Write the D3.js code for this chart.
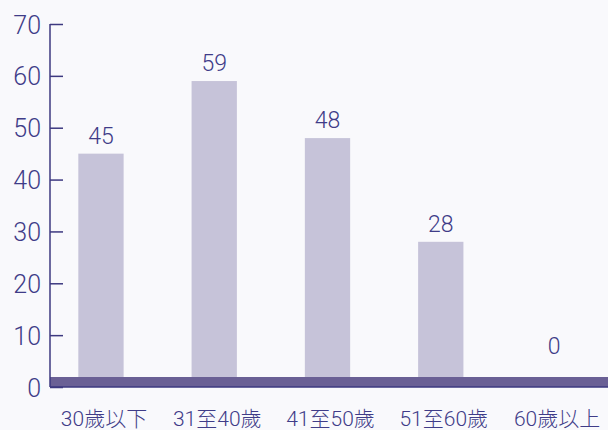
<!DOCTYPE html>
<html>
<head>
<meta charset="utf-8">
<script src="https://cdn.jsdelivr.net/npm/d3@7"></script>
<style>
  body { margin: 0; background: #f9f9fc; }
  svg { display: block; }
  text { font-family: Roboto, "Noto Sans CJK TC", sans-serif; font-weight: 300; fill: #3f3c88; }
</style>
</head>
<body>
<div id="chart"></div>
<script>
const categories = ['30歲以下', '31至40歲', '41至50歲', '51至60歲', '60歲以上'];
const values = [45, 59, 48, 28, 0];
const yTicks = [0, 10, 20, 30, 40, 50, 60, 70];

const width = 608;
const height = 430;
const axisX = 50;
const floorDepth = 10;

const svg = d3.select('#chart')
    .append('svg')
    .attr('width', width)
    .attr('height', height);

const x = d3.scaleBand()
    .domain(categories)
    .range([axisX, 605])
    .paddingInner(0.6)
    .paddingOuter(0.25);

const y = d3.scaleLinear()
    .domain([0, 70])
    .range([387, 24]);

const floorTop = y(0) - floorDepth;

// barras
svg.selectAll('rect.bar')
    .data(values)
    .enter()
    .append('rect')
    .attr('class', 'bar')
    .attr('x', (d, i) => x(categories[i]))
    .attr('y', d => Math.min(y(d), floorTop))
    .attr('width', x.bandwidth())
    .attr('height', d => Math.max(0, floorTop - y(d)))
    .attr('fill', '#c6c3d9');

// piso
svg.append('rect')
    .attr('x', axisX)
    .attr('y', floorTop)
    .attr('width', width - axisX)
    .attr('height', floorDepth)
    .attr('fill', '#6a6095');

svg.append('line')
    .attr('x1', axisX)
    .attr('x2', width)
    .attr('y1', y(0))
    .attr('y2', y(0))
    .attr('stroke', '#3d3980')
    .attr('stroke-width', 1.5);

// eje y
const yAxis = d3.axisLeft(y)
    .tickValues(yTicks)
    .tickSize(-13);

const gy = svg.append('g')
    .attr('transform', `translate(${axisX},0)`)
    .call(yAxis);

gy.select('.domain').remove();
gy.selectAll('.tick line')
    .attr('stroke', '#3d3980')
    .attr('stroke-width', 1.5);
gy.selectAll('.tick text')
    .attr('x', -9)
    .attr('dy', '0.36em')
    .style('font-size', '25px')
    .style('font-family', null)
    .attr('fill', '#3f3c88');

svg.append('line')
    .attr('x1', axisX)
    .attr('x2', axisX)
    .attr('y1', y(70))
    .attr('y2', y(0))
    .attr('stroke', '#3d3980')
    .attr('stroke-width', 1.5);

// etiquetas de valores
svg.selectAll('text.value')
    .data(values)
    .enter()
    .append('text')
    .attr('class', 'value')
    .attr('x', (d, i) => x(categories[i]) + x.bandwidth() / 2)
    .attr('y', d => Math.min(y(d) - 10, y(0) - 33))
    .attr('text-anchor', 'middle')
    .style('font-size', '23px')
    .text(d => d);

// eje x
const xAxis = d3.axisBottom(x).tickSize(0).tickPadding(0);
const gx = svg.append('g')
    .attr('transform', `translate(0,${y(0)})`)
    .call(xAxis);
gx.select('.domain').remove();
gx.selectAll('.tick text')
    .attr('x', 3)
    .attr('y', 39)
    .attr('dy', 0)
    .style('font-size', '21px')
    .style('font-family', null)
    .attr('fill', '#3f3c88');
</script>
</body>
</html>
